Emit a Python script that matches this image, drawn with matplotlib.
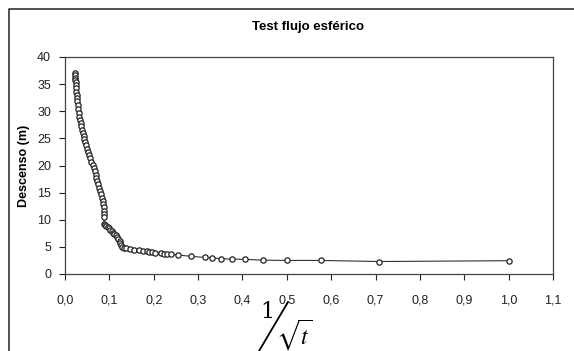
import matplotlib
matplotlib.use("Agg")
import matplotlib.pyplot as plt
from matplotlib.lines import Line2D
from matplotlib.ticker import FuncFormatter

plt.rcParams['font.family'] = ['Liberation Sans', 'DejaVu Sans']
plt.rcParams['mathtext.fontset'] = 'stix'

# 1/sqrt(t) and drawdown (m)
inv_sqrt_t = [0.0225, 0.0228, 0.0232, 0.0236, 0.0241, 0.0246, 0.0252, 0.0258,
              0.0265, 0.0272, 0.0280, 0.0290, 0.0300, 0.0312, 0.0325, 0.0338,
              0.0352, 0.0368, 0.0385, 0.0400, 0.0418, 0.0435, 0.0450, 0.0470,
              0.0495, 0.0520, 0.0545, 0.0570, 0.0595, 0.0620, 0.0645, 0.0670,
              0.0690, 0.0710, 0.0730, 0.0750, 0.0770, 0.0790, 0.0810, 0.0830,
              0.0850, 0.0865, 0.0875, 0.0878, 0.0880, 0.0882,
              0.0880, 0.0900, 0.0930, 0.0960, 0.0990, 0.1020, 0.1050, 0.1080,
              0.1110, 0.1140, 0.1170, 0.1200, 0.1230, 0.1250, 0.1265,
              0.1275, 0.1327, 0.1370, 0.1460, 0.1550, 0.1670, 0.1760, 0.1840,
              0.1900, 0.1970, 0.2025, 0.2175, 0.2227, 0.2300, 0.2400, 0.2550,
              0.2850, 0.3150, 0.3320, 0.3520, 0.3770, 0.4050, 0.4470, 0.5000,
              0.5770, 0.7070, 1.0000]
descenso = [37.0, 36.6, 36.2, 35.8, 35.3, 34.8, 34.2, 33.6,
            33.0, 32.4, 31.8, 31.1, 30.4, 29.7, 29.0, 28.4,
            27.8, 27.2, 26.6, 26.0, 25.4, 24.8, 24.3, 23.7,
            23.1, 22.5, 21.9, 21.3, 20.7, 20.1, 19.5, 18.9,
            18.3, 17.7, 17.1, 16.5, 15.9, 15.3, 14.7, 14.1,
            13.5, 12.9, 12.3, 11.7, 11.1, 10.5,
            9.3, 9.0, 8.8, 8.6, 8.4, 8.15, 7.9, 7.6,
            7.35, 7.1, 6.8, 6.5, 6.1, 5.7, 5.3,
            5.0, 4.8, 4.75, 4.65, 4.5, 4.35, 4.25, 4.15,
            4.05, 4.0, 3.95, 3.8, 3.75, 3.7, 3.6, 3.5,
            3.25, 3.05, 3.0, 2.8, 2.75, 2.7, 2.55, 2.5,
            2.5, 2.3, 2.45]

x_ticks = [0.0, 0.1, 0.2, 0.3, 0.4, 0.5, 0.6, 0.7, 0.8, 0.9, 1.0, 1.1]
y_ticks = [0, 5, 10, 15, 20, 25, 30, 35, 40]

fig = plt.figure(figsize=(5.74, 3.51), dpi=100)
ax = fig.add_axes([65 / 574, 1 - 274 / 351, 488 / 574, 217 / 351])

ax.plot(inv_sqrt_t, descenso, color='#333333', linewidth=0.8,
        marker='o', markersize=3.8, markerfacecolor='white',
        markeredgecolor='#222222', markeredgewidth=0.9)

ax.set_xlim(0, 1.1)
ax.set_ylim(0, 40)
ax.set_xticks(x_ticks)
ax.set_yticks(y_ticks)
ax.xaxis.set_major_formatter(FuncFormatter(lambda v, p: f"{v:.1f}".replace('.', ',')))
ax.tick_params(direction='out', length=4, width=0.8, labelsize=9,
               colors='#222222')
ax.tick_params(axis='x', pad=11)
ax.tick_params(axis='y', pad=6)
for s in ax.spines.values():
    s.set_color('#444444')
    s.set_linewidth(0.9)

ax.set_ylabel("Descenso (m)", fontsize=9, fontweight='bold', labelpad=5)
fig.text(308 / 574, 1 - 27 / 351, "Test flujo esférico", fontsize=9.5,
         fontweight='bold', ha='center', va='center')

# x label drawn as a slashed fraction 1 / sqrt(t)
fig.text(267 / 574, 1 - 312 / 351, "1", family='DejaVu Serif', fontsize=16,
         ha='center', va='center')
fig.add_artist(Line2D([259 / 574, 288 / 574], [1 - 351 / 351, 1 - 302 / 351],
                      transform=fig.transFigure, color='black', linewidth=1.3))
fig.text(294 / 574, 1 - 335 / 351, r"$\sqrt{t}$", fontsize=17,
         ha='center', va='center')

# outer chart frame
fig.add_artist(Line2D([9 / 574, 9 / 574, 1.0], [0.0, 1 - 9 / 351, 1 - 9 / 351],
                      transform=fig.transFigure, color='#333333', linewidth=1.2))

fig.savefig("out.png", dpi=100)
